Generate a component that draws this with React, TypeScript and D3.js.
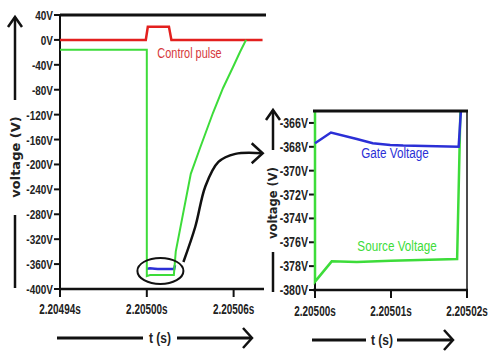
import React from 'react';
import * as d3 from 'd3';

// main chart (voltage vs time)
const leftYTicks = [40, 0, -40, -80, -120, -160, -200, -240, -280, -320, -360, -400];
const leftXTicks = [2.20494, 2.205, 2.20506];
// zoomed inset
const insetYTicks = [-366, -368, -370, -372, -374, -376, -378, -380];
const insetXTicks = [2.205, 2.20501, 2.20502];

// control pulse (red)
const ctrlT = [2.20494, 2.2049993, 2.2050007, 2.2050153, 2.205017, 2.20508];
const ctrlV = [0, 0, 21, 21, 0, 0];

// source voltage (green)
const srcT = [2.20494, 2.205, 2.205, 2.2050022, 2.2050055, 2.20501, 2.2050187, 2.20502, 2.2050304, 2.2050368, 2.2050457, 2.2050527, 2.2050596, 2.2050644, 2.2050686];
const srcV = [-16, -16, -379.3, -377.6, -377.65, -377.55, -377.4, -340, -215, -173.6, -117.4, -77.2, -43.5, -19.4, 0];

// gate voltage (blue)
const gateT = [2.205, 2.2050021, 2.2050055, 2.2050076, 2.2050099, 2.2050116, 2.2050189, 2.2050195];
const gateV = [-367.7, -366.8, -367.35, -367.7, -367.85, -367.9, -368.0, -362];

// annotation: ellipse around the bottom and the arrow to the inset (data units)
const ringCenter = { t: 2.2050094, v: -371 };
const arrowT = [2.2050253, 2.2050335, 2.2050405, 2.2050495, 2.2050612, 2.2050801];
const arrowV = [-356.6, -300, -235, -196, -183, -182];

const RED = '#e3201e';
const GREEN = '#3ddc3a';
const BLUE = '#2b2fd6';
const FONT = "'Liberation Sans', Arial, sans-serif";

const zip = (ts: number[], vs: number[]) => ts.map((t, i) => [t, vs[i]] as [number, number]);

// narrow text: regular font squeezed horizontally
function NText({ x, y, children, size, anchor = 'start', bold = false, fill = '#222', squeeze = 0.8 }:
  { x: number; y: number; children: string; size: number; anchor?: string; bold?: boolean; fill?: string; squeeze?: number }) {
  return (
    <text transform={`translate(${x},${y}) scale(${squeeze},1)`} textAnchor={anchor}
      fontFamily={FONT} fontWeight={bold ? 'bold' : 'normal'} fontSize={size} fill={fill}>{children}</text>
  );
}

export default function App() {
  const x = d3.scaleLinear().domain([2.20494, 2.205081]).range([60, 264]);
  const y = d3.scaleLinear().domain([-400, 40]).range([289, 15]);
  const xi = d3.scaleLinear().domain([2.205, 2.20502]).range([315, 467]);
  const yi = d3.scaleLinear().domain([-380, -365]).range([290, 111]);

  const line = d3.line<[number, number]>().x(d => x(d[0])).y(d => y(d[1]));
  const lineI = d3.line<[number, number]>().x(d => xi(d[0])).y(d => yi(d[1]));
  const arrow = d3.line<[number, number]>().x(d => x(d[0])).y(d => y(d[1])).curve(d3.curveCatmullRom);

  const tip = [x(arrowT[arrowT.length - 1]), y(arrowV[arrowV.length - 1])];

  const yTitle = (cx: number, top: number, textMid: number, bottom: number, lineEnd: number, lineStart: number, size: number) => (
    <g>
      <line x1={cx} x2={cx} y1={top} y2={lineEnd} stroke="#111" strokeWidth={2.5} />
      <path d={`M${cx - 7},${top + 10}L${cx},${top}L${cx + 7},${top + 10}`} fill="none" stroke="#111" strokeWidth={2.5} />
      <text transform={`translate(${cx + size * 0.36},${textMid}) rotate(-90)`} textAnchor="middle"
        fontFamily="'DejaVu Sans', sans-serif" fontWeight="bold" fontSize={size} fill="#222">voltage (V)</text>
      <line x1={cx} x2={cx} y1={lineStart} y2={bottom} stroke="#111" strokeWidth={2.5} />
    </g>
  );

  const xTitle = (yy: number, x0: number, x1: number, mid: number, x2: number, x3: number) => (
    <g>
      <line x1={x0} x2={x1} y1={yy} y2={yy} stroke="#111" strokeWidth={3} />
      <NText x={mid} y={yy + 5} anchor="middle" bold size={15}>t (s)</NText>
      <line x1={x2} x2={x3} y1={yy} y2={yy} stroke="#111" strokeWidth={3} />
      <path d={`M${x3 - 9},${yy - 10}L${x3},${yy}L${x3 - 9},${yy + 10}`} fill="none" stroke="#111" strokeWidth={2.5} />
    </g>
  );

  return (
    <svg width={492} height={353} style={{ position: 'absolute', left: 0, top: 0, background: '#fff' }}>
      <defs>
        <clipPath id="inset-clip">
          <rect x={312} y={111} width={155} height={179} />
        </clipPath>
      </defs>

      {/* ---- main chart ---- */}
      <g>
        {leftYTicks.map(v => (
          <g key={v}>
            <line x1={54} x2={60} y1={y(v)} y2={y(v)} stroke="#111" strokeWidth={2} />
            <NText x={53} y={y(v) + 5} anchor="end" bold size={13.5} squeeze={0.74}>{`${v}V`}</NText>
          </g>
        ))}
        {leftXTicks.map(t => (
          <g key={t}>
            <line x1={x(t)} x2={x(t)} y1={289} y2={297} stroke="#111" strokeWidth={2} />
            <NText x={x(t)} y={314} anchor="middle" bold size={14} squeeze={0.71}>{`${t.toFixed(5)}s`}</NText>
          </g>
        ))}
        <line x1={60} x2={60} y1={15} y2={289} stroke="#111" strokeWidth={2} />
        <line x1={59} x2={264} y1={289} y2={289} stroke="#111" strokeWidth={2.5} />
        <line x1={60} x2={266} y1={15} y2={15} stroke="#111" strokeWidth={3} />

        <path d={line(zip(ctrlT, ctrlV)) ?? ''} fill="none" stroke={RED} strokeWidth={2.5} />
        <path d={line(zip(gateT, gateV)) ?? ''} fill="none" stroke={BLUE} strokeWidth={2.5} />
        <path d={line(zip(srcT, srcV)) ?? ''} fill="none" stroke={GREEN} strokeWidth={2} />

        <NText x={x(2.2050073)} y={y(-29)} size={14} fill="#d6393c" squeeze={0.78}>Control pulse</NText>

        <ellipse cx={x(ringCenter.t)} cy={y(ringCenter.v)} rx={23} ry={13} fill="none" stroke="#111" strokeWidth={2} />
        <path d={arrow(zip(arrowT, arrowV)) ?? ''} fill="none" stroke="#111" strokeWidth={2.5} />
        <path d={`M${tip[0] - 11},${tip[1] - 10}L${tip[0]},${tip[1]}L${tip[0] - 11},${tip[1] + 10}`} fill="none" stroke="#111" strokeWidth={2.5} />

        {yTitle(15, 17, 157, 288, 100, 215, 13)}
        {xTitle(338, 57, 143, 160, 177, 252)}
      </g>

      {/* ---- inset ---- */}
      <g>
        {insetYTicks.map(v => (
          <g key={v}>
            <line x1={309} x2={315} y1={yi(v)} y2={yi(v)} stroke="#111" strokeWidth={2} />
            <NText x={308} y={yi(v) + 5} anchor="end" bold size={14} squeeze={0.76}>{`${v}V`}</NText>
          </g>
        ))}
        {insetXTicks.map(t => (
          <g key={t}>
            <line x1={xi(t)} x2={xi(t)} y1={290} y2={298} stroke="#111" strokeWidth={2} />
            <NText x={xi(t)} y={316} anchor="middle" bold size={14} squeeze={0.71}>{`${t.toFixed(5)}s`}</NText>
          </g>
        ))}
        <line x1={315} x2={315} y1={111} y2={290} stroke="#111" strokeWidth={2} />
        <line x1={467} x2={467} y1={111} y2={290} stroke="#111" strokeWidth={1.5} />

        <g clipPath="url(#inset-clip)">
          <path d={lineI(zip(srcT, srcV)) ?? ''} fill="none" stroke={GREEN} strokeWidth={2.5} />
          <path d={lineI(zip(gateT, gateV)) ?? ''} fill="none" stroke={BLUE} strokeWidth={2.5} />
        </g>

        <line x1={313} x2={468} y1={111} y2={111} stroke="#111" strokeWidth={3} />
        <line x1={313} x2={468} y1={290} y2={290} stroke="#111" strokeWidth={2.5} />

        <NText x={395} y={yi(-368.9)} anchor="middle" size={15} fill={BLUE} squeeze={0.78}>Gate Voltage</NText>
        <NText x={397} y={yi(-376.7)} anchor="middle" size={15} fill={GREEN} squeeze={0.78}>Source Voltage</NText>

        {yTitle(273, 110, 203, 292, 150, 252, 11.5)}
        {xTitle(340, 312, 366, 382, 397, 453)}
      </g>
    </svg>
  );
}
